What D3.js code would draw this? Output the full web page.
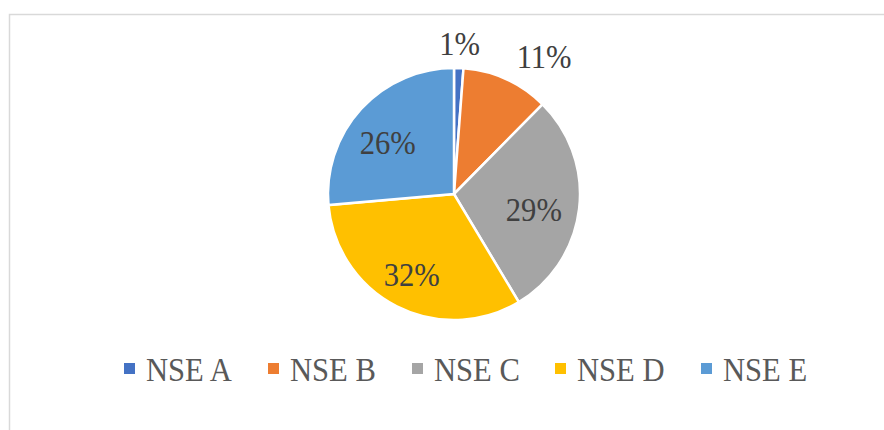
<!DOCTYPE html>
<html>
<head>
<meta charset="utf-8">
<script src="https://cdn.jsdelivr.net/npm/d3@7"></script>
<style>
  body { margin: 0; background: #fff; }
  svg { display: block; }
</style>
</head>
<body>
<div class="canva"></div>
<script>
const categories = ['NSE A', 'NSE B', 'NSE C', 'NSE D', 'NSE E'];
const values = [1.2, 11.2, 29.0, 32.2, 26.4];
const colors = ['#4472C4', '#ED7D31', '#A5A5A5', '#FFC000', '#5B9BD5'];

const W = 884, H = 430;
const cx = 454, cy = 194, r = 126;
const font = '"Liberation Serif", "Times New Roman", serif';

const svg = d3.select('.canva').append('svg')
    .attr('width', W)
    .attr('height', H);

// chart frame (only left/top edges show in the crop)
svg.append('path')
  .attr('d', `M9.5,${H} V14.5 H${W}`)
  .attr('fill', 'none')
  .attr('stroke', '#d9d9d9')
  .attr('stroke-width', 1.5);

const data = categories.map((c, i) => ({ name: c, value: values[i], color: colors[i] }));
const total = d3.sum(values);

const pie = d3.pie().value(d => d.value).sort(null);
const arcs = pie(data);

const arc = d3.arc().innerRadius(0).outerRadius(r);
const inArc = d3.arc().innerRadius(r * 0.67).outerRadius(r * 0.67);
const outArc = d3.arc().innerRadius(r * 1.2).outerRadius(r * 1.2);

const g = svg.append('g').attr('transform', `translate(${cx},${cy})`);

g.selectAll('path.slice')
  .data(arcs)
  .join('path')
  .attr('class', 'slice')
  .attr('d', arc)
  .attr('fill', d => d.data.color)
  .attr('stroke', '#fff')
  .attr('stroke-width', 2.5);

const fmt = v => Math.round(v / total * 100) + '%';

// text in the picture is a bit narrow, so squeeze it horizontally
g.selectAll('text.lbl')
  .data(arcs)
  .join('text')
  .attr('class', 'lbl')
  .each(function(d) {
    const outside = d.data.value < 15;
    const mid = (d.startAngle + d.endAngle) / 2;
    let p = outside ? outArc.centroid(d) : inArc.centroid(d);
    if (!outside) p = [p[0] - 4, p[1] + 5];
    d3.select(this)
      .attr('transform', `translate(${p[0]},${p[1]}) scale(0.9,1)`)
      .attr('text-anchor', outside && Math.sin(mid) > 0.3 ? 'start' : 'middle');
  })
  .attr('dy', '0.35em')
  .attr('font-family', font)
  .attr('font-size', 34)
  .attr('fill', '#404040')
  .text(d => fmt(d.data.value));

// legend
const legendX = [124, 268, 412, 555, 701];
const items = svg.append('g').selectAll('g')
  .data(data)
  .join('g')
  .attr('transform', (d, i) => `translate(${legendX[i]},369)`);

items.append('rect')
  .attr('x', 0).attr('y', -6)
  .attr('width', 11).attr('height', 11)
  .attr('fill', d => d.color);

items.append('text')
  .attr('transform', 'translate(22,0) scale(0.9,1)')
  .attr('dy', '0.35em')
  .attr('font-family', font)
  .attr('font-size', 34)
  .attr('fill', '#595959')
  .text(d => d.name);
</script>
</body>
</html>
